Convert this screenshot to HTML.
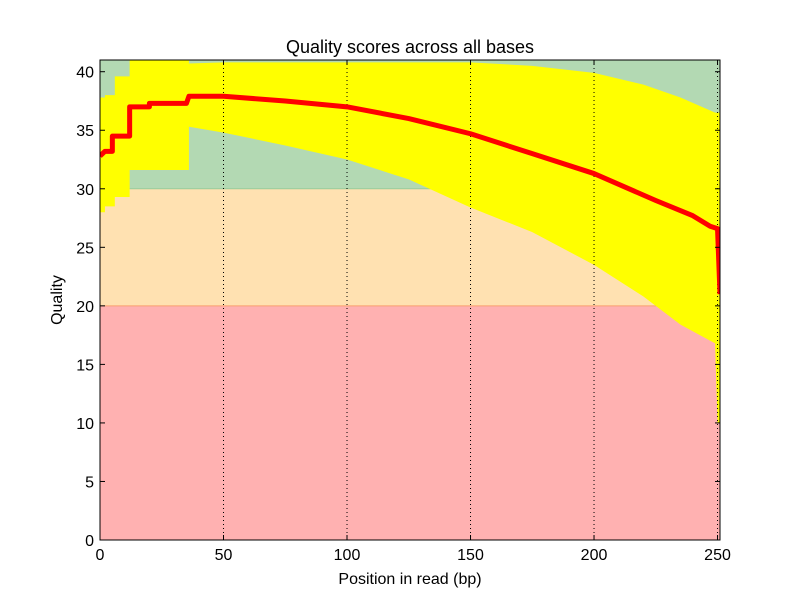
<!DOCTYPE html>
<html><head><meta charset="utf-8"><style>
body{margin:0;background:#fff}
svg{display:block;font-family:"Liberation Sans","DejaVu Sans",sans-serif}
</style></head><body>
<svg id="chart" width="800" height="600">
<rect width="800" height="600" fill="#fff"/>
<g id="plot"></g>
<text x="410" y="53" font-size="18" text-anchor="middle">Quality scores across all bases</text>
<text x="410" y="584" font-size="16" text-anchor="middle">Position in read (bp)</text>
<text x="62" y="300" font-size="16" text-anchor="middle" transform="rotate(-90 62 300)">Quality</text>
</svg>
<script>
const positions=[0,2,2,6,6,12,12,36,36,50,75,100,125,150,175,200,220,235,249,250,251];
const upperQ=[37.8,37.8,38,38,39.6,39.6,41.5,41.5,40.7,40.8,40.8,40.8,40.8,40.8,40.5,39.9,38.9,37.8,36.5,36.5,36.5];
const lowerQ=[28,28,28.5,28.5,29.3,29.3,31.6,31.6,35.3,34.8,33.7,32.5,30.8,28.4,26.3,23.5,20.8,18.4,16.8,10,10];
const meanPos=[0,2,2,5,5,12,12,20,20,35,36,50,75,100,125,150,175,200,225,240,247,250,251];
const meanQ=[32.8,33.2,33.2,33.2,34.5,34.5,37,37,37.3,37.3,37.9,37.9,37.5,37,36,34.7,33,31.3,29,27.7,26.8,26.6,21];
const xTicks=[0,50,100,150,200,250];
const yTicks=[0,5,10,15,20,25,30,35,40];
const L=100,R=720,T=60,B=540,XMAX=251,YMAX=41;
const xs=v=>L+v/XMAX*(R-L), ys=v=>B-v/YMAX*(B-T);
const NS='http://www.w3.org/2000/svg';
const g=document.getElementById('plot');
function mk(tag,attrs,parent){const e=document.createElementNS(NS,tag);for(const k in attrs)e.setAttribute(k,attrs[k]);(parent||g).appendChild(e);return e;}
const clip=mk('clipPath',{id:'clip'});mk('rect',{x:L,y:T,width:R-L,height:B-T},clip);
let e;
e=mk('rect',{x:L,y:ys(41),width:R-L,height:ys(30)-ys(41),fill:'#b3d9b3'});


e=mk('rect',{x:L,y:ys(30),width:R-L,height:ys(20)-ys(30),fill:'#ffe1b1'});


e=mk('rect',{x:L,y:ys(20),width:R-L,height:B-ys(20),fill:'#ffb1b1'});


mk('line',{x1:L,x2:R,y1:ys(30),y2:ys(30),stroke:'#9c9',"stroke-width":1});
mk('line',{x1:L,x2:R,y1:ys(20),y2:ys(20),stroke:'#f9a070',"stroke-width":1});
let pts=positions.map((p,i)=>xs(p)+','+ys(upperQ[i]));
for(let i=positions.length-1;i>=0;i--)pts.push(xs(positions[i])+','+ys(lowerQ[i]));
e=mk('polygon',{points:pts.join(' '),fill:'#ffff00','clip-path':'url(#clip)'});


xTicks.slice(1).forEach(t=>{mk('line',{x1:xs(t),x2:xs(t),y1:T,y2:B,stroke:'#000','stroke-dasharray':'1,3','stroke-width':1});});
e=mk('polyline',{points:meanPos.map((p,i)=>xs(p)+','+ys(meanQ[i])).join(' '),fill:'none',stroke:'#f00','stroke-width':5,'stroke-linejoin':'round','clip-path':'url(#clip)'});


e=mk('rect',{x:L,y:T,width:R-L,height:B-T,fill:'none',stroke:'#000','stroke-width':1});


xTicks.forEach(t=>{const x=xs(t);mk('line',{x1:x,x2:x,y1:B,y2:B-5,stroke:'#000'});mk('line',{x1:x,x2:x,y1:T,y2:T+5,stroke:'#000'});
 const tx=mk('text',{x:x,y:B+20,'font-size':16,'text-anchor':'middle'});tx.textContent=t;
 
 });
yTicks.forEach(t=>{const y=ys(t);mk('line',{x1:L,x2:L+5,y1:y,y2:y,stroke:'#000'});mk('line',{x1:R,x2:R-5,y1:y,y2:y,stroke:'#000'});
 const tx=mk('text',{x:L-6,y:y+6,'font-size':16,'text-anchor':'end'});tx.textContent=t;
 
 });
</script>
</body></html>
